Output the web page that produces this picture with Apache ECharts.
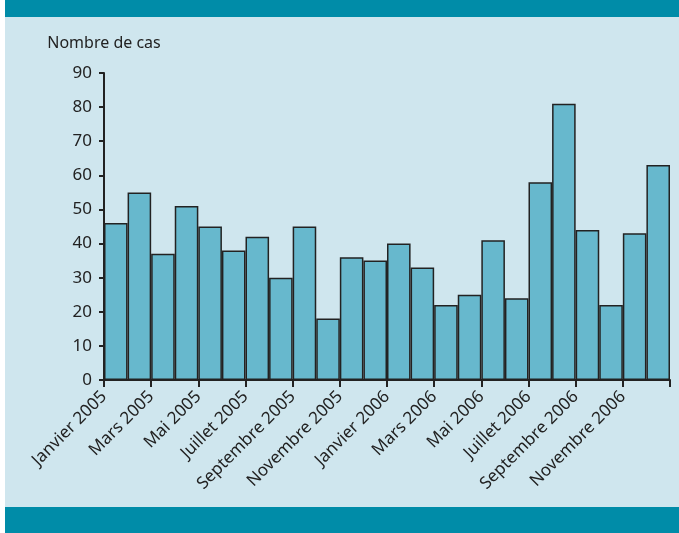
<!DOCTYPE html>
<html>
<head>
<meta charset="utf-8">
<script src="https://cdn.jsdelivr.net/npm/echarts@6/dist/echarts.min.js"></script>
<style>
  html, body { margin: 0; padding: 0; background: #ffffff; }
  #chart { width: 679px; height: 533px; }
</style>
</head>
<body>
<div id="chart"></div>
<script>
// nombre de cas par mois, janvier 2005 -> décembre 2006
var months = [
  'Jan 05', 'Fév 05', 'Mar 05', 'Avr 05', 'Mai 05', 'Juin 05',
  'Juil 05', 'Août 05', 'Sep 05', 'Oct 05', 'Nov 05', 'Déc 05',
  'Jan 06', 'Fév 06', 'Mar 06', 'Avr 06', 'Mai 06', 'Juin 06',
  'Juil 06', 'Août 06', 'Sep 06', 'Oct 06', 'Nov 06', 'Déc 06'
];
var cases = [46, 55, 37, 51, 45, 38, 42, 30, 45, 18, 36, 35,
             40, 33, 22, 25, 41, 24, 58, 81, 44, 22, 43, 63];
// libellés placés sur les graduations (un mois sur deux)
var tickLabels = [
  'Janvier 2005', '', 'Mars 2005', '', 'Mai 2005', '', 'Juillet 2005', '',
  'Septembre 2005', '', 'Novembre 2005', '', 'Janvier 2006', '', 'Mars 2006', '',
  'Mai 2006', '', 'Juillet 2006', '', 'Septembre 2006', '', 'Novembre 2006', '', ''
];

var chart = echarts.init(document.getElementById('chart'));
var font = '"Noto Sans", sans-serif';
var ink = '#222222';

var option = {
  backgroundColor: '#ffffff',
  animation: false,
  graphic: [
    { type: 'rect', z: -10, shape: { x: 5, y: 0, width: 674, height: 533 }, style: { fill: '#cfe6ee' } },
    { type: 'rect', z: -9, shape: { x: 5, y: 0, width: 674, height: 17 }, style: { fill: '#008ca8' } },
    { type: 'rect', z: -9, shape: { x: 5, y: 507, width: 674, height: 26 }, style: { fill: '#008ca8' } }
  ],
  grid: { left: 104, right: 9, top: 73, bottom: 153 },
  xAxis: [
    {
      type: 'category',
      data: months,
      boundaryGap: true,
      axisLine: { show: false },
      axisTick: { show: false },
      axisLabel: { show: false }
    },
    {
      type: 'category',
      data: tickLabels,
      boundaryGap: false,
      position: 'bottom',
      axisLine: { show: true, lineStyle: { color: ink, width: 2 } },
      axisTick: { show: true, length: 7, interval: 1, lineStyle: { color: ink, width: 2 } },
      axisLabel: {
        interval: 0,
        rotate: 45,
        margin: 14,
        color: ink,
        fontSize: 17,
        fontFamily: font
      }
    }
  ],
  yAxis: {
    type: 'value',
    min: 0,
    max: 90,
    interval: 10,
    name: 'Nombre de cas',
    nameLocation: 'end',
    nameGap: 22,
    nameTextStyle: { color: ink, fontSize: 16, fontFamily: font, align: 'center' },
    axisLine: { show: true, lineStyle: { color: ink, width: 2 } },
    axisTick: { show: true, length: 5, lineStyle: { color: ink, width: 2 } },
    axisLabel: { color: ink, fontSize: 17, fontFamily: font, margin: 12 },
    splitLine: { show: false }
  },
  series: [
    {
      type: 'bar',
      xAxisIndex: 0,
      data: cases,
      barCategoryGap: 0,
      itemStyle: { color: '#67b8cd', borderColor: ink, borderWidth: 1.5 }
    }
  ]
};

chart.setOption(option);
window.addEventListener('resize', function () {
  chart.resize();
});
</script>
</body>
</html>
